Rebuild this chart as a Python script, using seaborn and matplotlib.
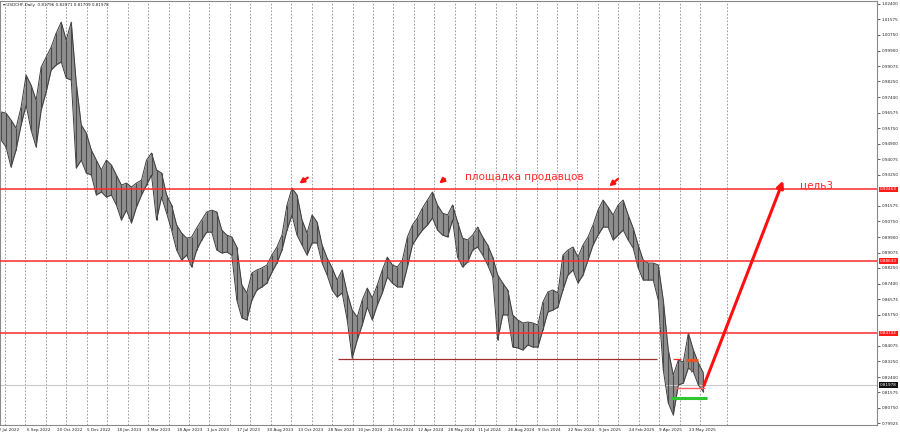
import numpy as np
import pandas as pd
import seaborn as sns
import matplotlib
matplotlib.use("Agg")
import matplotlib.pyplot as plt
import matplotlib.transforms as mtransforms

# weekly high / low of USDCHF
bar_high = [0.9661, 0.9655, 0.9618, 0.9575, 0.9687, 0.9859, 0.9805, 0.9725, 0.9902, 0.9955,
            1.0009, 1.0084, 1.0143, 1.0047, 1.0143, 0.9816, 0.9591, 0.9548, 0.9457, 0.9403,
            0.9350, 0.9403, 0.9377, 0.9323, 0.9269, 0.9280, 0.9259, 0.9280, 0.9296, 0.9403,
            0.9441, 0.9350, 0.9334, 0.9216, 0.9162, 0.9055, 0.9012, 0.8985, 0.8991, 0.9039,
            0.9082, 0.9125, 0.9135, 0.9125, 0.9028, 0.9001, 0.8991, 0.8937, 0.8733, 0.8691,
            0.8798, 0.8814, 0.8825, 0.8841, 0.8894, 0.8937, 0.9001, 0.9162, 0.9253, 0.9216,
            0.9082, 0.9012, 0.9109, 0.9071, 0.8948, 0.8878, 0.8825, 0.8760, 0.8814, 0.8691,
            0.8599, 0.8562, 0.8653, 0.8717, 0.8664, 0.8733, 0.8814, 0.8883, 0.8841, 0.8830,
            0.8867, 0.8991, 0.9055, 0.9093, 0.9146, 0.9189, 0.9232, 0.9162, 0.9119, 0.9109,
            0.9162, 0.9071, 0.8985, 0.8975, 0.9001, 0.9044, 0.8991, 0.8948, 0.8883, 0.8787,
            0.8744, 0.8707, 0.8573, 0.8546, 0.8530, 0.8535, 0.8530, 0.8519, 0.8642, 0.8696,
            0.8707, 0.8691, 0.8894, 0.8921, 0.8937, 0.8883, 0.8948, 0.8991, 0.9055, 0.9135,
            0.9189, 0.9151, 0.9109, 0.9162, 0.9189, 0.9109, 0.9039, 0.8948, 0.8867, 0.8851,
            0.8851, 0.8841, 0.8653, 0.8385, 0.8251, 0.8331, 0.8321, 0.8476, 0.8385, 0.8315,
            0.8262]
bar_low = [0.9511, 0.9473, 0.9366, 0.9457, 0.9591, 0.9698, 0.9564, 0.9473, 0.9671, 0.9768,
           0.9886, 0.9913, 0.9929, 0.9843, 0.9832, 0.9361, 0.9403, 0.9334, 0.9323, 0.9216,
           0.9232, 0.9205, 0.9216, 0.9162, 0.9082, 0.9135, 0.9066, 0.9151, 0.9216, 0.9269,
           0.9323, 0.9082, 0.9205, 0.9119, 0.9028, 0.8921, 0.8867, 0.8894, 0.8830, 0.8921,
           0.8975, 0.9017, 0.9017, 0.8921, 0.8905, 0.8910, 0.8894, 0.8653, 0.8557, 0.8546,
           0.8653, 0.8707, 0.8723, 0.8744, 0.8803, 0.8851, 0.8921, 0.9028, 0.9109, 0.9001,
           0.8948, 0.8894, 0.8959, 0.8959, 0.8851, 0.8787, 0.8707, 0.8669, 0.8691, 0.8546,
           0.8342, 0.8439, 0.8519, 0.8615, 0.8546, 0.8626, 0.8691, 0.8776, 0.8744, 0.8723,
           0.8723, 0.8830, 0.8948, 0.8991, 0.9028, 0.9055, 0.9093, 0.9028, 0.9001, 0.8991,
           0.9082, 0.8883, 0.8830, 0.8857, 0.8921, 0.8937, 0.8894, 0.8841, 0.8776, 0.8439,
           0.8573, 0.8573, 0.8401, 0.8396, 0.8385, 0.8412, 0.8401, 0.8401, 0.8492, 0.8589,
           0.8599, 0.8615, 0.8707, 0.8787, 0.8814, 0.8744, 0.8787, 0.8867, 0.8948, 0.9001,
           0.9044, 0.9044, 0.8975, 0.9001, 0.9028, 0.8975, 0.8932, 0.8825, 0.8760, 0.8760,
           0.8760, 0.8653, 0.8278, 0.8101, 0.8037, 0.8197, 0.8208, 0.8289, 0.8267, 0.8197,
           0.8160]

level_prices = [0.92463, 0.88633, 0.84743]
bid_price = 0.81978
support_price = 0.8337
box_top = 0.8337
box_mid = 0.8331
box_bottom = 0.8181
green_price = 0.8128
target_price = 0.9307

price_ticks = [1.02400, 1.01575, 1.00750, 0.99900, 0.99075, 0.98250, 0.97400, 0.96575,
               0.95750, 0.94900, 0.94075, 0.93250, 0.91575, 0.90750, 0.89900,
               0.89075, 0.88250, 0.87400, 0.86575, 0.85750, 0.84075, 0.83250,
               0.82400, 0.81575, 0.80750, 0.79925]
date_labels = ["22 Jul 2022", "6 Sep 2022", "20 Oct 2022", "5 Dec 2022", "18 Jan 2023",
               "3 Mar 2023", "18 Apr 2023", "1 Jun 2023", "17 Jul 2023", "30 Aug 2023",
               "13 Oct 2023", "28 Nov 2023", "10 Jan 2024", "26 Feb 2024", "12 Apr 2024",
               "28 May 2024", "11 Jul 2024", "26 Aug 2024", "9 Oct 2024", "22 Nov 2024",
               "9 Jan 2025", "24 Feb 2025", "9 Apr 2025", "23 May 2025"]

sns.set_theme(style="white")
plt.rcParams['font.family'] = ['DejaVu Sans']
SMALL = 3.0

df = pd.DataFrame({"high": bar_high, "low": bar_low})
df["idx"] = np.arange(len(df))

fig = plt.figure(figsize=(9, 4.36), dpi=100)
ax = fig.add_axes([0.0, 11 / 436, 877 / 900, 424 / 436])
ax.set_xlim(-0.2, 174.6)
ax.set_ylim(0.7983, 1.0256)

# vertical dashed grid
for m in range(35):
    ax.axvline(0.8 + 4.075 * m, color="#8c8c8c", lw=0.6, ls=(0, (2, 2)), zorder=0)
ax.axvline(144.7, color="#8c8c8c", lw=0.6, ls=(0, (2, 2)), zorder=0)

# price band: grey body, dark outline and bar strokes
ax.fill_between(df["idx"], df["low"], df["high"], color="#8e8e8e", lw=0, zorder=1)
sns.lineplot(data=df, x="idx", y="high", color="#3c3c3c", lw=0.7, ax=ax, zorder=2)
sns.lineplot(data=df, x="idx", y="low", color="#3c3c3c", lw=0.7, ax=ax, zorder=2)
ax.vlines(df["idx"], df["low"], df["high"], color="#4a4a4a", lw=0.8, zorder=2)
ax.set_xlabel("")
ax.set_ylabel("")

# levels
for p in level_prices:
    ax.axhline(p, color="#ff2a2a", lw=1.1, zorder=3)
ax.axhline(bid_price, color="#c8c8c8", lw=0.8, zorder=1)
ax.hlines(support_price, 67.2, 130.8, color="#a03030", lw=0.9, zorder=3)
ax.hlines(box_top, 134.0, 135.5, color="#ff2a2a", lw=0.9, zorder=4)
ax.hlines(box_mid, 136.5, 138.9, color="#e8541e", lw=2.2, zorder=4)
ax.vlines(137.6, box_mid - 0.0065, box_mid, color="#ff2a2a", lw=0.8, zorder=4)
ax.hlines(box_bottom, 134.3, 140.3, color="#ff6060", lw=1.0, zorder=4)
ax.hlines(green_price, 133.6, 140.7, color="#2ec82e", lw=2.2, zorder=4)

# target arrow
ax.annotate("", xy=(156.1, target_price), xytext=(139.9, box_bottom),
            arrowprops=dict(arrowstyle="-|>", color="#ff1010", lw=2.2, mutation_scale=10))
ax.text(159.3, 0.9269, "цель3", color="#ff2a2a", fontsize=7.5, va="center", ha="left")
ax.text(92.5, 0.9312, "площадка продавцов", color="#ff2a2a", fontsize=7.5, va="center", ha="left")

# small pointer arrows
for x0, y0, x1, y1 in [(61.6, 0.9318, 59.0, 0.9269), (88.9, 0.9312, 86.9, 0.9269),
                       (123.4, 0.9312, 120.8, 0.9253)]:
    ax.annotate("", xy=(x1, y1), xytext=(x0, y0),
                arrowprops=dict(arrowstyle="-|>", color="#ff1010", lw=1.6, mutation_scale=7))

# right price axis
ax.yaxis.tick_right()
ax.set_yticks(price_ticks)
ax.set_yticklabels([f"{p:.5f}" for p in price_ticks])
ax.tick_params(axis="y", direction="out", length=2, width=0.5, pad=1.2, labelsize=SMALL,
               colors="#222222", right=True)
ax.set_xticks([])

for p, c in [(level_prices[0], "#ff1a1a"), (level_prices[1], "#ff1a1a"),
             (level_prices[2], "#ff1a1a"), (bid_price, "#111111")]:
    ax.text(1.0035, p, f"{p:.5f}", transform=ax.get_yaxis_transform(), fontsize=SMALL,
            color="white", va="center", ha="left", clip_on=False, zorder=10,
            bbox=dict(boxstyle="square,pad=0.2", fc=c, ec="none"))

# date labels
trans = mtransforms.blended_transform_factory(ax.transData, ax.transAxes)
for k, lab in enumerate(date_labels):
    ax.text(-0.9 + 6 * k, -0.006, lab, transform=trans, fontsize=SMALL, color="#222222",
            ha="left", va="top", clip_on=False)

ax.text(0.003, 0.996, "\u25be USDCHF,Daily  0.81796 0.82071 0.81709 0.81978",
        transform=ax.transAxes, fontsize=SMALL, color="#222222", ha="left", va="top")

for s in ax.spines.values():
    s.set_color("#8a8a8a")
    s.set_linewidth(0.8)

fig.savefig("out.png", dpi=100, facecolor="white")
